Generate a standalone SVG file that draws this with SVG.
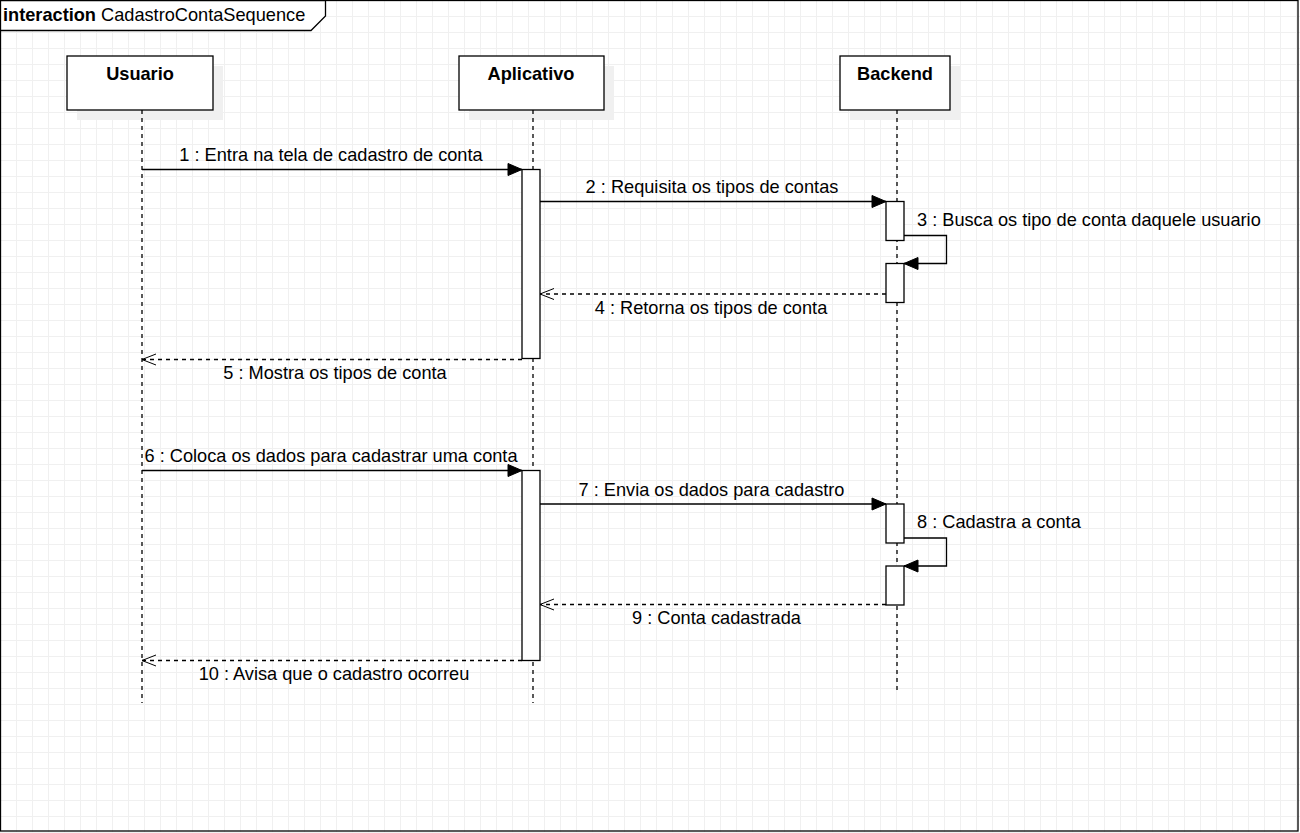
<svg xmlns="http://www.w3.org/2000/svg" width="1300" height="833" viewBox="0 0 1300 833">
  <defs>
    <pattern id="grid" width="16" height="16" patternUnits="userSpaceOnUse">
      <rect x="0" y="0" width="16" height="1" fill="#f0f0f0"/>
      <rect x="0" y="0" width="1" height="16" fill="#f0f0f0"/>
    </pattern>
    <marker id="filled" markerWidth="16" markerHeight="14" refX="15" refY="7" orient="auto" markerUnits="userSpaceOnUse">
      <path d="M1,1 L15,7 L1,13 Z" fill="#000" stroke="#000" stroke-width="1"/>
    </marker>
    <marker id="open" markerWidth="16" markerHeight="14" refX="15" refY="7" orient="auto" markerUnits="userSpaceOnUse">
      <path d="M1,1.5 L15,7 L1,12.5" fill="none" stroke="#000" stroke-width="1"/>
    </marker>
  </defs>
  <style>
    text { font-family: "Liberation Sans", Arial, sans-serif; font-size: 18.2px; fill: #000; }
    .bold { font-weight: bold; }
    .head { fill: #fff; stroke: #000; stroke-width: 1.3; }
    .shadow { fill: #f0f0f0; stroke: none; }
    .life { stroke: #000; stroke-width: 1.3; stroke-dasharray: 4 4; fill: none; }
    .act { fill: #fff; stroke: #000; stroke-width: 1.3; }
    .msg { stroke: #000; stroke-width: 1.3; fill: none; marker-end: url(#filled); }
    .ret { stroke: #000; stroke-width: 1.3; fill: none; stroke-dasharray: 4 4; marker-end: url(#open); }
  </style>
  <rect x="0" y="0" width="1300" height="833" fill="#fff"/>
  <rect x="0" y="0" width="1300" height="833" fill="url(#grid)"/>

  <g id="frame">
    <rect x="0.5" y="0.5" width="1297.5" height="830.5" fill="none" stroke="#000" stroke-width="1.3"/>
    <path d="M0.5,0.5 L325.5,0.5 L325.5,16 L311,30.5 L0.5,30.5 Z" fill="#fff" stroke="#000" stroke-width="1.3"/>
    <text x="3" y="21"><tspan class="bold">interaction</tspan> CadastroContaSequence</text>
  </g>

  <g id="usuario">
    <rect class="shadow" x="77" y="66" width="146" height="54"/>
    <line class="life" x1="142" y1="110" x2="142" y2="703"/>
    <rect class="head" x="67" y="56" width="146" height="54"/>
    <text class="bold" x="140" y="80" text-anchor="middle">Usuario</text>
  </g>

  <g id="aplicativo">
    <rect class="shadow" x="469" y="66" width="145" height="54"/>
    <line class="life" x1="533" y1="110" x2="533" y2="703"/>
    <rect class="head" x="459" y="56" width="145" height="54"/>
    <text class="bold" x="531" y="80" text-anchor="middle">Aplicativo</text>
    <rect class="act" x="522" y="169.5" width="18" height="189"/>
    <rect class="act" x="522" y="470.5" width="18" height="190"/>
  </g>

  <g id="backend">
    <rect class="shadow" x="850" y="66" width="111" height="54"/>
    <line class="life" x1="897" y1="110" x2="897" y2="692"/>
    <rect class="head" x="840" y="56" width="110" height="54"/>
    <text class="bold" x="895" y="80" text-anchor="middle">Backend</text>
    <rect class="act" x="886" y="201.5" width="18" height="39"/>
    <rect class="act" x="886" y="263.5" width="18" height="39"/>
    <rect class="act" x="886" y="504" width="18" height="39"/>
    <rect class="act" x="886" y="566" width="18" height="39"/>
  </g>

  <g id="connectors">
    <line class="msg" x1="142" y1="169.5" x2="522" y2="169.5"/>
    <text x="331" y="161" text-anchor="middle">1 : Entra na tela de cadastro de conta</text>

    <line class="msg" x1="540" y1="201.5" x2="886" y2="201.5"/>
    <text x="712" y="193" text-anchor="middle">2 : Requisita os tipos de contas</text>

    <path class="msg" d="M904,235.5 L946.5,235.5 L946.5,263.5 L904,263.5"/>
    <text x="917" y="226">3 : Busca os tipo de conta daquele usuario</text>

    <line class="ret" x1="886" y1="294" x2="540" y2="294"/>
    <text x="711" y="314" text-anchor="middle">4 : Retorna os tipos de conta</text>

    <line class="ret" x1="522" y1="359.5" x2="142" y2="359.5"/>
    <text x="335" y="379" text-anchor="middle">5 : Mostra os tipos de conta</text>

    <line class="msg" x1="142" y1="470.5" x2="522" y2="470.5"/>
    <text x="331" y="462" text-anchor="middle">6 : Coloca os dados para cadastrar uma conta</text>

    <line class="msg" x1="540" y1="504" x2="886" y2="504"/>
    <text x="711.5" y="496" text-anchor="middle">7 : Envia os dados para cadastro</text>

    <path class="msg" d="M904,538 L946.5,538 L946.5,566 L904,566"/>
    <text x="917" y="528">8 : Cadastra a conta</text>

    <line class="ret" x1="886" y1="604.5" x2="540" y2="604.5"/>
    <text x="716.5" y="624" text-anchor="middle">9 : Conta cadastrada</text>

    <line class="ret" x1="522" y1="660.5" x2="142" y2="660.5"/>
    <text x="334" y="680" text-anchor="middle">10 : Avisa que o cadastro ocorreu</text>
  </g>
</svg>
